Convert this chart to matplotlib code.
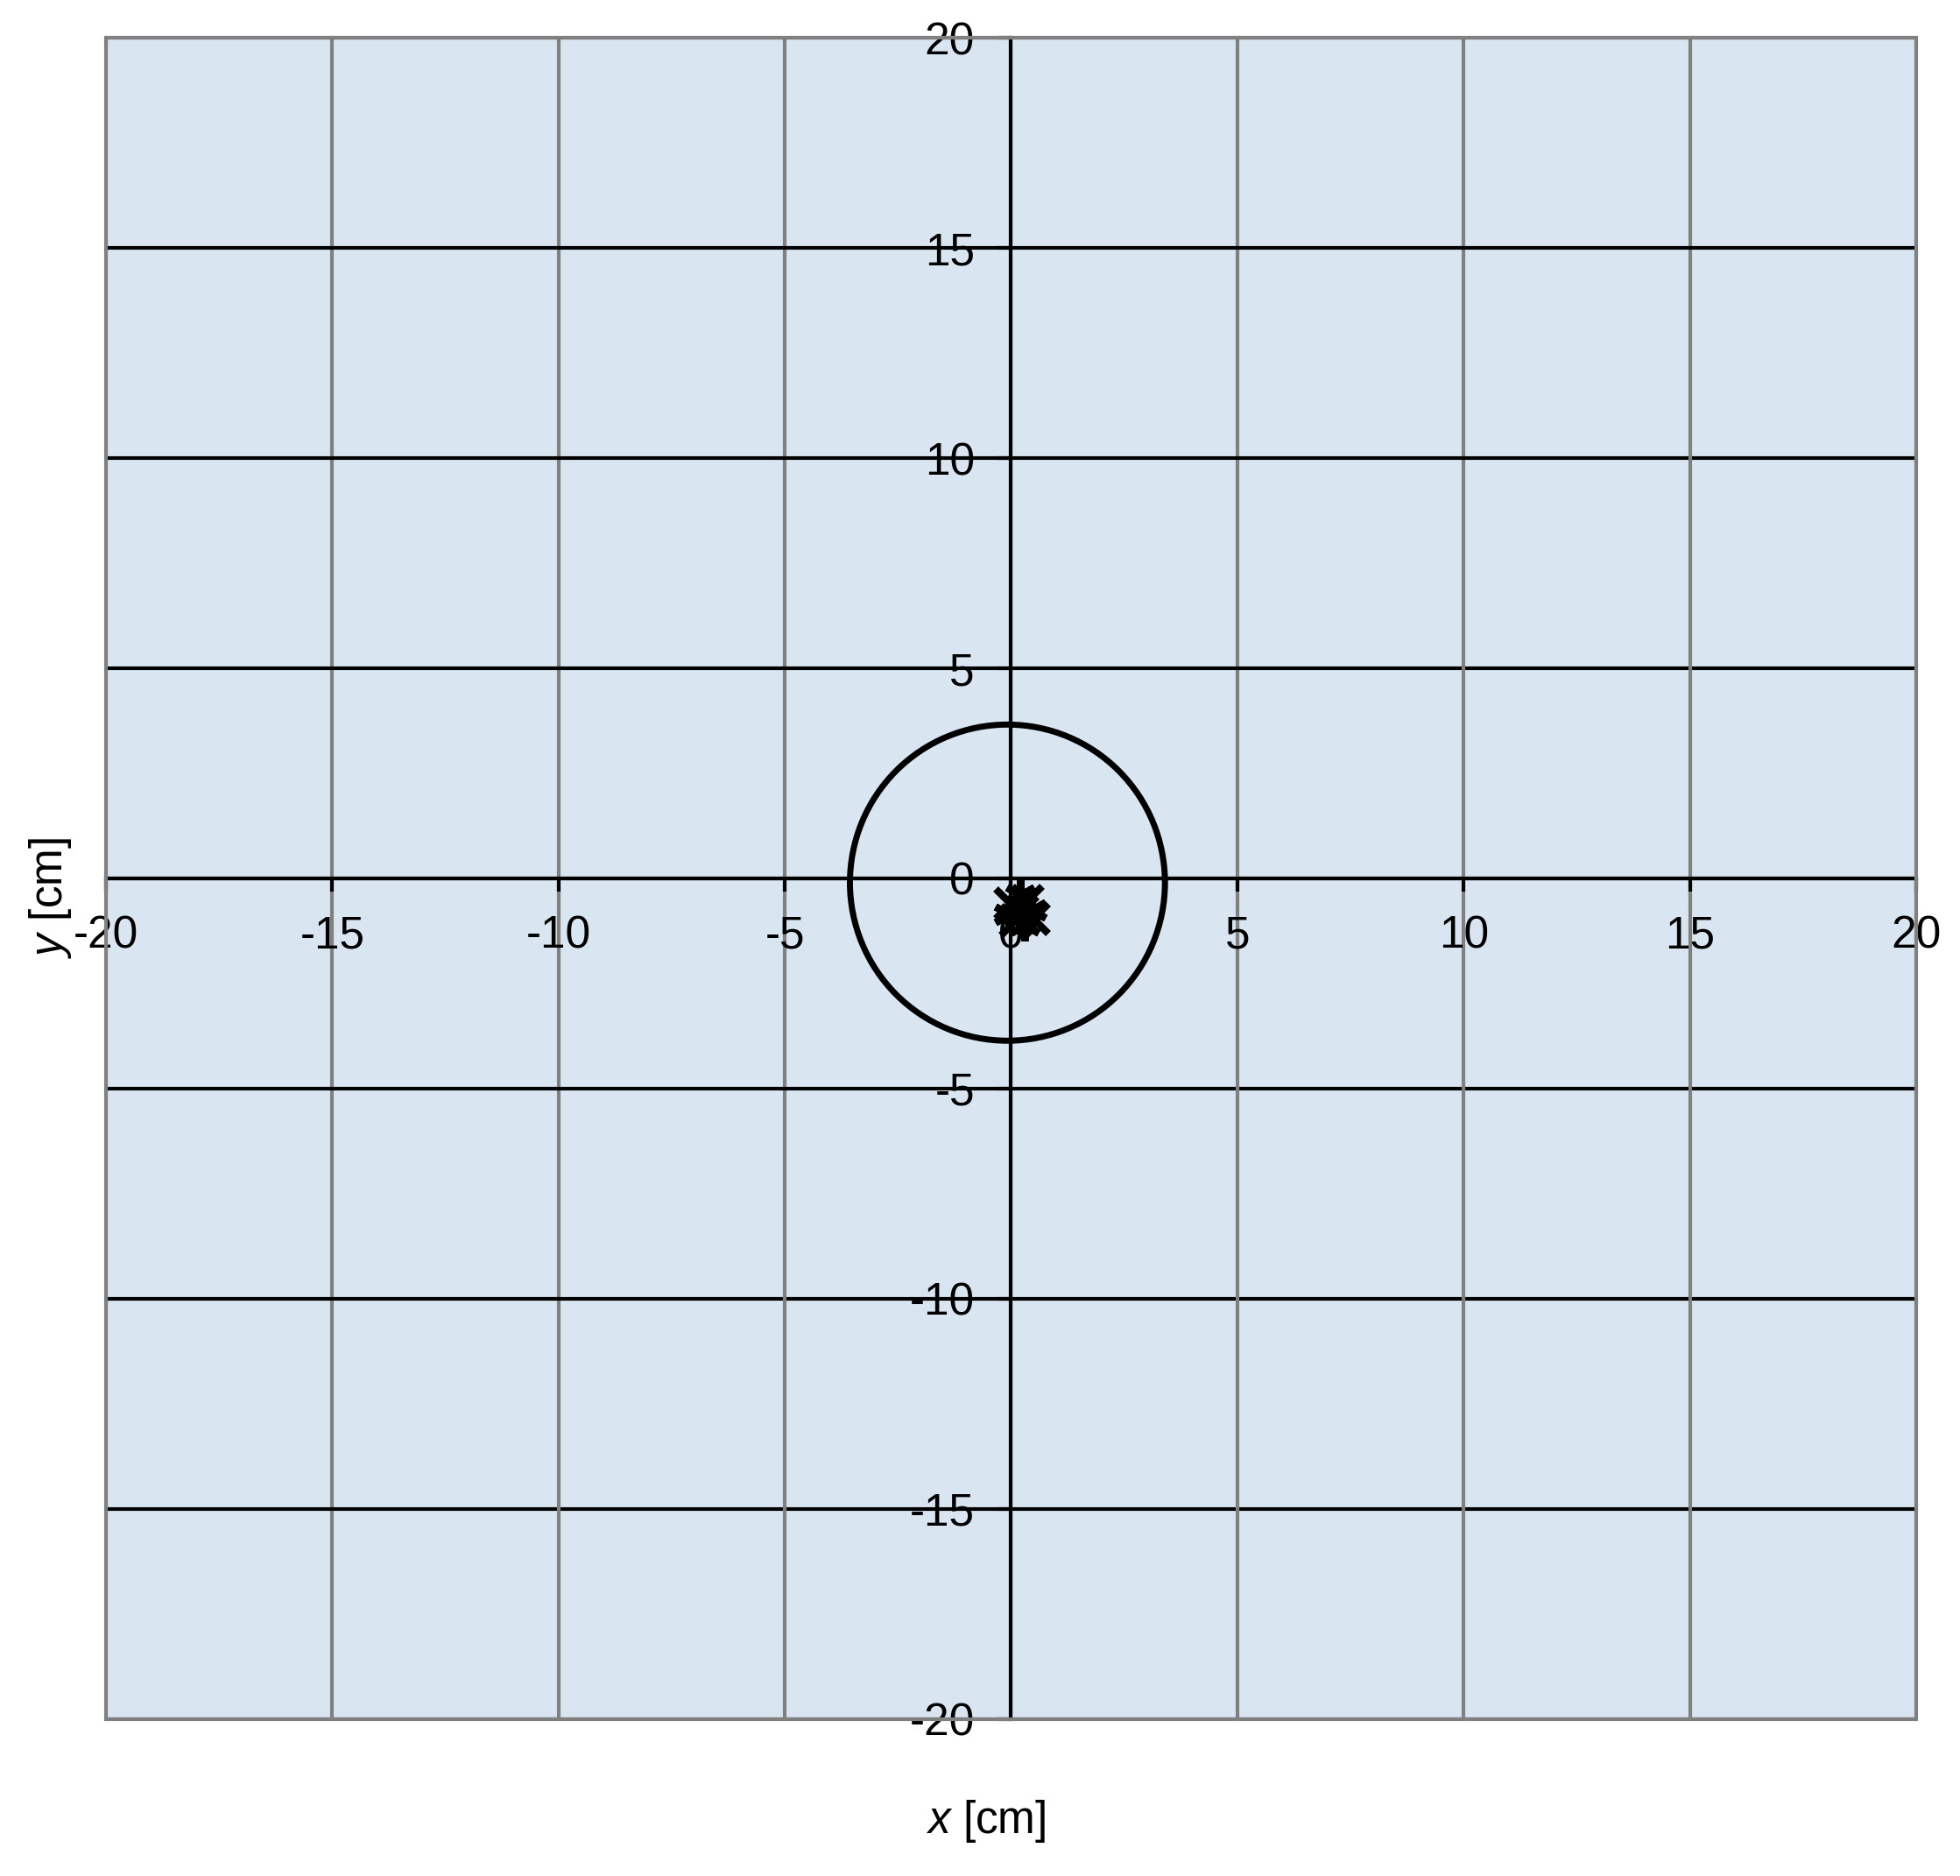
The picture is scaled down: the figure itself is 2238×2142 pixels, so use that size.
import numpy as np
import matplotlib.pyplot as plt
from matplotlib.patches import Ellipse, Rectangle

plt.rcParams['font.family'] = ['Liberation Sans', 'DejaVu Sans']
plt.rcParams['mathtext.fontset'] = 'custom'
plt.rcParams['mathtext.rm'] = 'Liberation Sans'
plt.rcParams['mathtext.it'] = 'Liberation Sans:italic'

# data (cm)
ticks = [-20, -15, -10, -5, 0, 5, 10, 15, 20]
tick_labels = ['-20', '-15', '-10', '-5', '0', '5', '10', '15', '20']

# hit points
x_cross = [0.00, 0.35, 0.50, 0.10, 0.25]
y_cross = [-0.60, -0.55, -0.95, -1.00, -0.80]
x_star = [0.20, 0.45, -0.05, 0.30]
y_star = [-0.40, -0.75, -0.85, -1.10]

# circle centre and radii
circle_center = (-0.08, -0.10)
circle_rx = 3.48
circle_ry = 3.76

bg = '#d9e6f1'
grey = '#808080'

fig = plt.figure(figsize=(22.38, 21.42), dpi=100)
ax = fig.add_axes([0.054, 0.0836, 0.9237, 0.8963])
ax.set_facecolor(bg)
ax.set_xlim(-20, 20)
ax.set_ylim(-20, 20)

# grid
for t in ticks:
    ax.axvline(t, color=grey, lw=3.0, zorder=1)
    ax.axhline(t, color='black', lw=3.0, zorder=1)

# centred axes
for s in ['top', 'right']:
    ax.spines[s].set_visible(False)
ax.spines['left'].set_position(('data', 0))
ax.spines['bottom'].set_position(('data', 0))
ax.spines['left'].set_linewidth(3.0)
ax.spines['bottom'].set_linewidth(3.0)
ax.spines['left'].set_zorder(2)
ax.spines['bottom'].set_zorder(2)

ax.set_xticks(ticks)
ax.set_yticks(ticks)
ax.set_xticklabels(tick_labels)
ax.set_yticklabels(tick_labels)
ax.tick_params(axis='both', direction='out', length=11, width=3.0,
               labelsize=37, pad=19)

# border
ax.add_patch(Rectangle((0, 0), 1, 1, transform=ax.transAxes, fill=False,
                       edgecolor=grey, lw=3.0, clip_on=False, zorder=3))

# circle
ax.add_patch(Ellipse(circle_center, 2 * circle_rx, 2 * circle_ry, fill=False,
                     edgecolor='black', lw=5.0, zorder=4))

# points
ax.plot(x_cross, y_cross, linestyle='none', marker='x', ms=24, mew=6,
        color='black', zorder=5)
ax.plot(x_star, y_star, linestyle='none', marker=(6, 2, 0), ms=26, mew=6,
        color='black', zorder=5)

fig.text(1126 / 2238, 1 - 2080 / 2142, r'$\it{x}$ [cm]', fontsize=37,
         ha='center', va='center')
fig.text(57 / 2238, 1 - 1025 / 2142, r'$\it{y}$ [cm]', fontsize=37,
         rotation=90, ha='center', va='center')

fig.savefig('out.png', dpi=100)
